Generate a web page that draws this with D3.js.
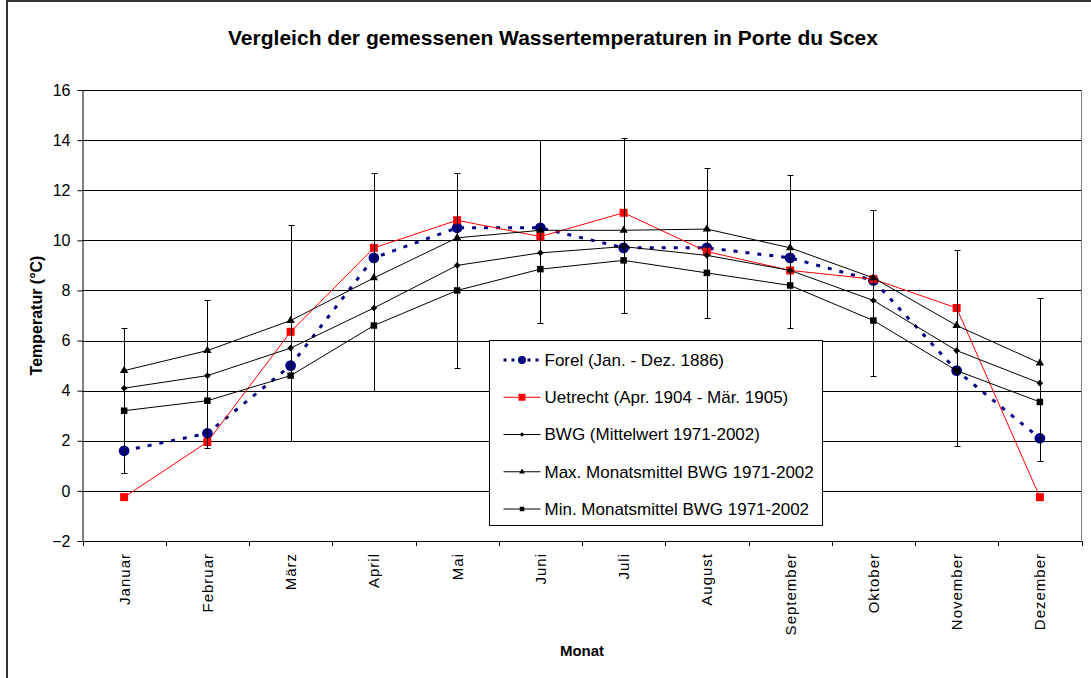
<!DOCTYPE html>
<html>
<head>
<meta charset="utf-8">
<script src="https://cdn.jsdelivr.net/npm/d3@7"></script>
<style>
  body { margin: 0; background: #fff; }
  svg { display: block; font-family: "Liberation Sans", Arial, sans-serif; }
</style>
</head>
<body>
<div id="chart"></div>
<script>
const months = ["Januar", "Februar", "März", "April", "Mai", "Juni", "Juli", "August", "September", "Oktober", "November", "Dezember"];
const forel = [1.6, 2.3, 5.0, 9.3, 10.5, 10.5, 9.7, 9.7, 9.3, 8.4, 4.8, 2.1];
const uetrecht = [-0.25, 1.95, 6.35, 9.7, 10.8, 10.15, 11.1, 9.55, 8.8, 8.45, 7.3, -0.25];
const bwgMean = [4.1, 4.6, 5.7, 7.3, 9.0, 9.5, 9.75, 9.4, 8.8, 7.6, 5.6, 4.3];
const bwgMax = [4.8, 5.6, 6.8, 8.5, 10.1, 10.4, 10.4, 10.45, 9.7, 8.5, 6.6, 5.1];
const bwgMin = [3.2, 3.6, 4.6, 6.6, 8.0, 8.85, 9.2, 8.7, 8.2, 6.8, 4.8, 3.55];
const errLow = [0.7, 1.7, 2.0, 4.0, 4.9, 6.7, 7.1, 6.9, 6.5, 4.6, 1.8, 1.2];
const errHigh = [6.5, 7.6, 10.6, 12.7, 12.7, 14.0, 14.1, 12.9, 12.6, 11.2, 9.6, 7.7];
const yTicks = [-2, 0, 2, 4, 6, 8, 10, 12, 14, 16];

const legendLabels = [
    "Forel (Jan. - Dez. 1886)",
    "Uetrecht (Apr. 1904 - Mär. 1905)",
    "BWG (Mittelwert 1971-2002)",
    "Max. Monatsmittel BWG 1971-2002",
    "Min. Monatsmittel BWG 1971-2002"
];

const W = 1091, H = 678;
const plot = { left: 82.5, right: 1081.5, top: 90, bottom: 541 };

const svg = d3.select("#chart").append("svg")
    .attr("width", W)
    .attr("height", H);

// outer chart frame
svg.append("rect")
    .attr("x", 7).attr("y", 1)
    .attr("width", W + 20).attr("height", H + 20)
    .attr("fill", "#fff")
    .attr("stroke", "#333")
    .attr("stroke-width", 2);

const x = d3.scaleBand().domain(months).range([plot.left, plot.right]);
const y = d3.scaleLinear().domain([-2, 16]).range([plot.bottom, plot.top]);
const cx = (i) => x(months[i]) + x.bandwidth() / 2;

// gridlines
svg.append("g")
    .selectAll("line")
    .data(yTicks.filter(d => d > -2))
    .enter()
    .append("line")
    .attr("x1", plot.left).attr("x2", plot.right)
    .attr("y1", d => Math.round(y(d)) + 0.5)
    .attr("y2", d => Math.round(y(d)) + 0.5)
    .attr("stroke", "#000")
    .attr("stroke-width", 1);

// right plot border
svg.append("line")
    .attr("x1", plot.right).attr("x2", plot.right)
    .attr("y1", plot.top).attr("y2", plot.bottom)
    .attr("stroke", "#808080")
    .attr("stroke-width", 1);

// y axis
const yAxis = svg.append("g")
    .attr("transform", `translate(${plot.left},0)`)
    .call(d3.axisLeft(y).tickValues(yTicks).tickSize(5).tickSizeOuter(0).tickPadding(7));
yAxis.select(".domain").attr("stroke", "#000");
yAxis.selectAll(".tick line").attr("stroke", "#000");
yAxis.selectAll("text")
    .attr("font-size", 16)
    .attr("font-family", "Liberation Sans, Arial, sans-serif")
    .attr("fill", "#000");

// x axis
svg.append("line")
    .attr("x1", plot.left).attr("x2", plot.right)
    .attr("y1", plot.bottom + 0.5).attr("y2", plot.bottom + 0.5)
    .attr("stroke", "#000");
svg.append("g")
    .selectAll("line")
    .data(d3.range(months.length + 1))
    .enter()
    .append("line")
    .attr("x1", i => Math.round(plot.left + i * x.step()) + 0.5)
    .attr("x2", i => Math.round(plot.left + i * x.step()) + 0.5)
    .attr("y1", plot.bottom)
    .attr("y2", plot.bottom + 5)
    .attr("stroke", "#000");

svg.append("g")
    .selectAll("text")
    .data(months)
    .enter()
    .append("text")
    .attr("transform", (d, i) => `translate(${cx(i) + 5.5},553) rotate(-90)`)
    .attr("text-anchor", "end")
    .attr("font-size", 15)
    .attr("letter-spacing", 1)
    .text(d => d);

// title & axis titles
svg.append("text")
    .attr("x", 553).attr("y", 45)
    .attr("text-anchor", "middle")
    .attr("font-size", 20)
    .attr("font-weight", "bold")
    .attr("textLength", 650)
    .attr("lengthAdjust", "spacingAndGlyphs")
    .text("Vergleich der gemessenen Wassertemperaturen in Porte du Scex");

svg.append("text")
    .attr("x", (plot.left + plot.right) / 2).attr("y", 656)
    .attr("text-anchor", "middle")
    .attr("font-size", 15)
    .attr("font-weight", "bold")
    .text("Monat");

svg.append("text")
    .attr("transform", `translate(42,${(plot.top + plot.bottom) / 2}) rotate(-90)`)
    .attr("text-anchor", "middle")
    .attr("font-size", 16)
    .attr("font-weight", "bold")
    .text("Temperatur (°C)");

// series
const line = d3.line().x((d, i) => cx(i)).y(d => y(d));
const markerPath = {
    circle: d3.symbol(d3.symbolCircle, 90),
    square: (s) => d3.symbol(d3.symbolSquare, s * s),
    diamond: d3.symbol(d3.symbolDiamond2, 28),
    triangle: d3.symbol(d3.symbolTriangle, 30)
};

const series = [
    { values: forel, color: "#000080", width: 3, dash: "4,8", marker: markerPath.circle, fill: "#000080" },
    { values: uetrecht, color: "#ff0000", width: 1, dash: null, marker: markerPath.square(8), fill: "#ff0000" },
    { values: bwgMean, color: "#000", width: 1, dash: null, marker: markerPath.diamond, fill: "#000", err: true },
    { values: bwgMax, color: "#000", width: 1, dash: null, marker: markerPath.triangle, fill: "#000" },
    { values: bwgMin, color: "#000", width: 1, dash: null, marker: markerPath.square(6.5), fill: "#000" }
];

const seriesG = svg.append("g");
series.forEach(s => {
    const g = seriesG.append("g");
    if (s.err) {
        const eg = g.append("g");
        eg.selectAll(".err")
            .data(months)
            .enter()
            .append("path")
            .attr("d", (d, i) => {
                const xx = Math.round(cx(i)) + 0.5;
                const lo = Math.round(y(errLow[i])) + 0.5;
                const hi = Math.round(y(errHigh[i])) + 0.5;
                return `M${xx},${lo}V${hi}M${xx - 3},${lo}H${xx + 3}M${xx - 3},${hi}H${xx + 3}`;
            })
            .attr("fill", "none")
            .attr("stroke", "#000")
            .attr("stroke-width", 1);
    }
    g.append("path")
        .attr("d", line(s.values))
        .attr("fill", "none")
        .attr("stroke", s.color)
        .attr("stroke-width", s.width)
        .attr("stroke-dasharray", s.dash);
    g.selectAll(".pt")
        .data(s.values)
        .enter()
        .append("path")
        .attr("transform", (d, i) => `translate(${cx(i)},${y(d)})`)
        .attr("d", s.marker)
        .attr("fill", s.fill);
});

// legend
const lg = svg.append("g").attr("transform", "translate(489.5,340.5)");
lg.append("rect")
    .attr("width", 333).attr("height", 185)
    .attr("fill", "#fff")
    .attr("stroke", "#000");
const rowY = d3.scalePoint().domain(d3.range(5)).range([19.5, 168.5]);
const legendMarks = [
    d3.symbol(d3.symbolCircle, 50),
    d3.symbol(d3.symbolSquare, 49),
    d3.symbol(d3.symbolDiamond2, 14),
    d3.symbol(d3.symbolTriangle, 14),
    d3.symbol(d3.symbolSquare, 20)
];
series.forEach((s, i) => {
    const row = lg.append("g").attr("transform", `translate(0,${rowY(i)})`);
    row.append("line")
        .attr("x1", 14).attr("x2", 51)
        .attr("stroke", s.color)
        .attr("stroke-width", s.width)
        .attr("stroke-dasharray", s.dash ? "3,5" : null);
    row.append("path")
        .attr("transform", "translate(32.5,0)")
        .attr("d", legendMarks[i])
        .attr("fill", s.fill);
    row.append("text")
        .attr("x", 55).attr("dy", "0.35em")
        .attr("font-size", 17)
        .text(legendLabels[i]);
});
</script>
</body>
</html>
